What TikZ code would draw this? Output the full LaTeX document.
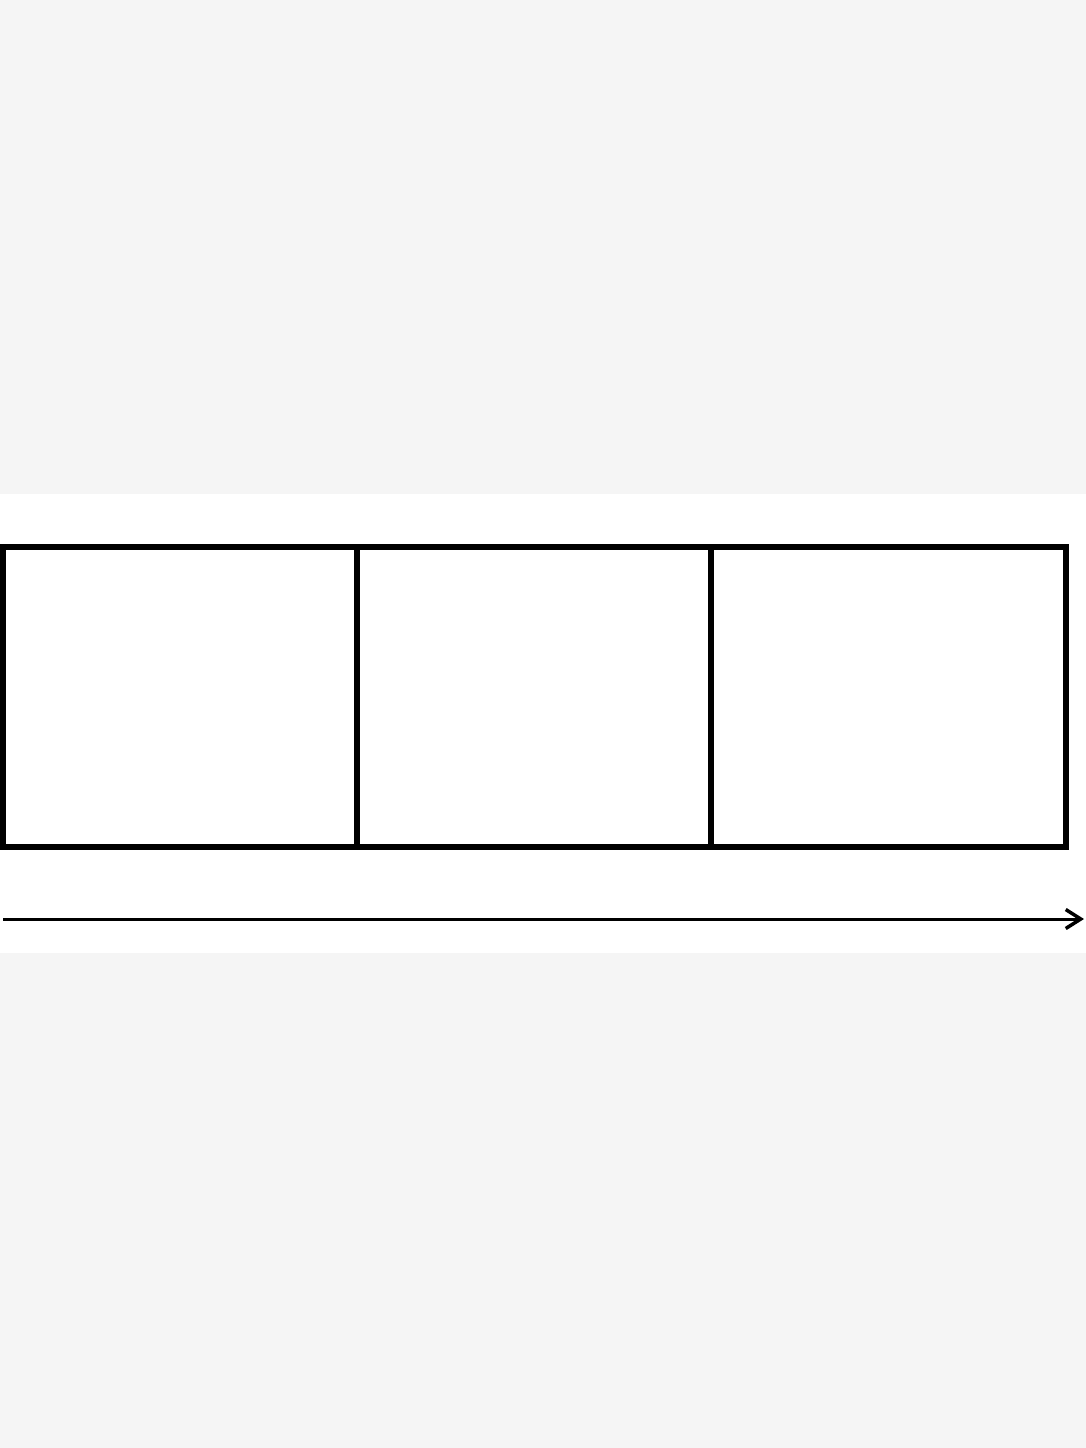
\documentclass[tikz,border=0pt]{standalone}
\usetikzlibrary{arrows.meta}
\definecolor{pagegray}{HTML}{F5F5F5}
\begin{document}
\begin{tikzpicture}[x=1pt,y=-1pt,
  cellbox/.style={draw=black,line width=6pt,fill=white,inner sep=0pt,outer sep=0pt,
    minimum width=354pt,minimum height=300.5pt},
  flowarrow/.style={draw=black,line width=3pt,-{Straight Barb[length=15pt,width=19pt,line width=3.5pt]}}]
\fill[pagegray] (0,0) rectangle (1086,1448);
\fill[white] (0,494) rectangle (1086,953);
\useasboundingbox (0,0) rectangle (1086,1448);
\node[cellbox] (b1) at (180,696.75) {};
\node[cellbox] (b2) at (534,696.75) {};
\node[cellbox,minimum width=355pt] (b3) at (888.5,696.75) {};
\coordinate (as) at (3,919);
\coordinate (ae) at (1084,919);
\draw[flowarrow] (as) -- (ae);
\end{tikzpicture}
\end{document}
